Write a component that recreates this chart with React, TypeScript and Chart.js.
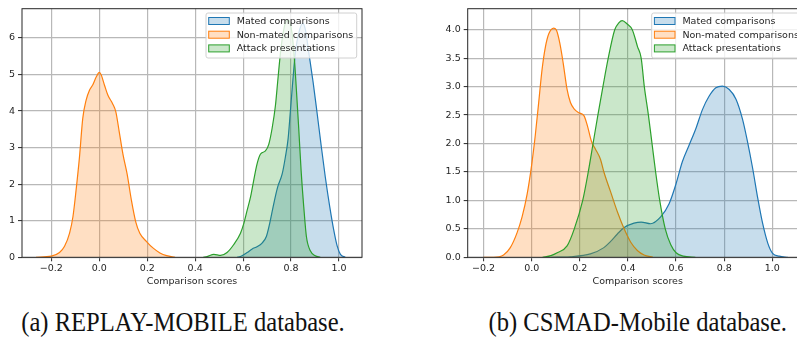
import React, { useEffect, useRef } from "react";
import { Chart, registerables } from "chart.js";

Chart.register(...registerables);

// ---------- shared ----------
const seriesLabels = ["Mated comparisons", "Non-mated comparisons", "Attack presentations"];
const lineColors = ["#1f77b4", "#ff7f0e", "#2ca02c"];
const fillColors = ["rgba(31,119,180,0.25)", "rgba(255,127,14,0.25)", "rgba(44,160,44,0.25)"];
const xTitle = "Comparison scores";

// ---------- (a) REPLAY-MOBILE ----------
const replayMatedX = [0.575, 0.589, 0.617, 0.638, 0.658, 0.679, 0.697, 0.711, 0.728, 0.744, 0.763, 0.776, 0.788, 0.797, 0.808, 0.818, 0.832, 0.849, 0.86, 0.874, 0.892, 0.908, 0.925, 0.943, 0.961, 0.978, 0.992, 1.006, 1.026];
const replayMatedY = [0, 0.02, 0.13, 0.23, 0.29, 0.39, 0.57, 0.93, 1.47, 1.92, 2.28, 2.73, 3.26, 3.98, 4.88, 5.6, 6.13, 6.4, 6.22, 5.6, 4.79, 3.98, 3.09, 2.19, 1.4, 0.75, 0.32, 0.08, 0];

const replayNonMatedX = [-0.264, -0.2, -0.166, -0.145, -0.124, -0.11, -0.097, -0.083, -0.069, -0.055, -0.041, -0.027, -0.013, 0.0, 0.008, 0.022, 0.036, 0.055, 0.069, 0.083, 0.099, 0.116, 0.134, 0.152, 0.169, 0.197, 0.225, 0.253, 0.281, 0.316];
const replayNonMatedY = [0, 0.03, 0.13, 0.3, 0.66, 1.11, 1.83, 2.72, 3.8, 4.3, 4.57, 4.72, 4.93, 5.06, 4.99, 4.7, 4.43, 4.21, 3.98, 3.44, 2.81, 2.28, 1.56, 0.97, 0.66, 0.43, 0.25, 0.12, 0.045, 0];

const replayAttackX = [0.433, 0.45, 0.478, 0.506, 0.533, 0.561, 0.589, 0.603, 0.617, 0.631, 0.644, 0.658, 0.672, 0.693, 0.707, 0.721, 0.735, 0.744, 0.756, 0.767, 0.779, 0.79, 0.804, 0.814, 0.822, 0.832, 0.842, 0.853, 0.864, 0.881, 0.901, 0.922];
const replayAttackY = [0, 0.02, 0.08, 0.05, 0.13, 0.35, 0.66, 0.93, 1.29, 1.65, 2.1, 2.55, 2.82, 2.91, 3.09, 3.53, 4.16, 4.79, 5.6, 6.13, 6.45, 6.48, 6.13, 5.42, 4.61, 3.53, 2.37, 1.38, 0.57, 0.17, 0.04, 0];

const replayXTicks = [-0.2, 0.0, 0.2, 0.4, 0.6, 0.8, 1.0];
const replayYTicks = [0, 1, 2, 3, 4, 5, 6];

// ---------- (b) CSMAD-Mobile ----------
const csmadMatedX = [0.08, 0.161, 0.244, 0.3, 0.328, 0.356, 0.383, 0.425, 0.455, 0.494, 0.536, 0.571, 0.599, 0.626, 0.654, 0.682, 0.71, 0.737, 0.765, 0.793, 0.821, 0.849, 0.876, 0.897, 0.918, 0.939, 0.96, 0.981, 1.001, 1.029, 1.064];
const csmadMatedY = [0, 0.01, 0.06, 0.17, 0.28, 0.41, 0.52, 0.6, 0.62, 0.59, 0.71, 0.94, 1.28, 1.68, 1.97, 2.26, 2.6, 2.83, 2.98, 3.01, 2.95, 2.78, 2.43, 2.03, 1.57, 1.05, 0.59, 0.25, 0.07, 0.02, 0];

const csmadNonMatedX = [-0.2, -0.158, -0.117, -0.089, -0.061, -0.04, -0.019, 0.0, 0.015, 0.029, 0.043, 0.057, 0.071, 0.092, 0.103, 0.117, 0.131, 0.147, 0.161, 0.178, 0.196, 0.217, 0.231, 0.249, 0.265, 0.286, 0.3, 0.328, 0.356, 0.384, 0.411, 0.439, 0.467, 0.504];
const csmadNonMatedY = [0, 0, 0.04, 0.17, 0.43, 0.71, 1.11, 1.63, 2.15, 2.72, 3.3, 3.7, 3.93, 4.03, 3.99, 3.76, 3.41, 2.95, 2.72, 2.6, 2.54, 2.49, 2.32, 2.03, 1.9, 1.72, 1.5, 1.15, 0.8, 0.5, 0.27, 0.12, 0.04, 0];

const csmadAttackX = [0.045, 0.08, 0.106, 0.147, 0.177, 0.212, 0.235, 0.255, 0.275, 0.296, 0.318, 0.345, 0.362, 0.376, 0.397, 0.418, 0.44, 0.455, 0.468, 0.485, 0.5, 0.515, 0.532, 0.555, 0.578, 0.6, 0.63, 0.68];
const csmadAttackY = [0, 0.03, 0.08, 0.2, 0.5, 1.0, 1.5, 2.0, 2.5, 3.0, 3.5, 4.0, 4.12, 4.16, 4.1, 4.0, 3.7, 3.5, 3.0, 2.5, 2.0, 1.5, 1.0, 0.5, 0.22, 0.08, 0.02, 0];

const csmadXTicks = [-0.2, 0.0, 0.2, 0.4, 0.6, 0.8, 1.0];
const csmadYTicks = [0, 0.5, 1.0, 1.5, 2.0, 2.5, 3.0, 3.5, 4.0];

// ---------- styling ----------
const FONT = "DejaVu Sans";
const TEXT = "#1f1f1f";
const GRID = "#b8b8b8";

const toPoints = (xs: number[], ys: number[]) => xs.map((x, i) => ({ x, y: ys[i] }));
const fmtX = (v: number) => {
  const s = v.toFixed(1);
  return s.startsWith("-") ? "\u2212" + s.slice(1) : s;
};

const frameAndLegend = {
  id: "frameAndLegend",
  afterDatasetsDraw(chart: any) {
    const { ctx, chartArea } = chart;
    ctx.save();
    ctx.strokeStyle = "#262626";
    ctx.lineWidth = 1;
    ctx.strokeRect(chartArea.left, chartArea.top, chartArea.right - chartArea.left, chartArea.bottom - chartArea.top);
    const w = 150.7;
    const h = 45;
    const left = chartArea.right - 5.3 - w;
    const top = chartArea.top + 4.3;
    ctx.beginPath();
    if (ctx.roundRect) ctx.roundRect(left, top, w, h, 2);
    else ctx.rect(left, top, w, h);
    ctx.fillStyle = "rgba(255,255,255,0.8)";
    ctx.fill();
    ctx.strokeStyle = "#d0d0d0";
    ctx.stroke();
    chart.data.datasets.forEach((ds: any, i: number) => {
      const cy = top + 8 + i * 13.7;
      ctx.fillStyle = "#ffffff";
      ctx.fillRect(left + 2.7, cy - 3.5, 20.6, 7);
      ctx.fillStyle = ds.backgroundColor;
      ctx.fillRect(left + 2.7, cy - 3.5, 20.6, 7);
      ctx.strokeStyle = ds.borderColor;
      ctx.lineWidth = 1;
      ctx.strokeRect(left + 2.7, cy - 3.5, 20.6, 7);
      ctx.fillStyle = TEXT;
      ctx.font = `9.5px '${FONT}'`;
      ctx.textBaseline = "middle";
      ctx.textAlign = "left";
      ctx.fillText(ds.label, left + 30.7, cy + 0.5);
    });
    ctx.restore();
  },
};

type PanelProps = {
  series: { x: number[]; y: number[] }[];
  xMin: number;
  xMax: number;
  yMax: number;
  xTicks: number[];
  yTicks: number[];
  yDecimals: number;
  yAxisWidth: number;
  width: number;
  height: number;
  padRight: number;
  padTop: number;
  xAxisHeight: number;
  left: number;
};

function Panel(p: PanelProps) {
  const ref = useRef<HTMLCanvasElement | null>(null);
  useEffect(() => {
    if (!ref.current) return;
    const datasets = p.series.map((s, i) => ({
      label: seriesLabels[i],
      data: toPoints(s.x, s.y),
      borderColor: lineColors[i],
      backgroundColor: fillColors[i],
      borderWidth: 1.2,
      pointRadius: 0,
      fill: "origin",
      cubicInterpolationMode: "monotone" as const,
      order: 3 - i,
    }));
    const tickFont = { family: FONT, size: 9.5 };
    const chart = new Chart(ref.current, {
      type: "line",
      data: { datasets },
      options: {
        animation: false,
        responsive: false,
        devicePixelRatio: 1,
        layout: { padding: { left: 0, top: p.padTop, right: p.padRight, bottom: 0 } },
        plugins: { legend: { display: false }, tooltip: { enabled: false } },
        scales: {
          x: {
            type: "linear",
            min: p.xMin,
            max: p.xMax,
            afterBuildTicks: (s: any) => {
              s.ticks = p.xTicks.map((v) => ({ value: v }));
            },
            afterFit: (s: any) => {
              s.height = p.xAxisHeight;
            },
            border: { display: false },
            grid: { color: GRID, lineWidth: 1.2, tickColor: "#262626", tickLength: 4, tickWidth: 1 },
            ticks: {
              padding: 2,
              color: TEXT,
              font: tickFont,
              maxRotation: 0,
              autoSkip: false,
              callback: (v: any) => fmtX(Number(v)),
            },
            title: {
              display: true,
              text: xTitle,
              color: TEXT,
              font: tickFont,
              padding: { top: 0, bottom: 2.6 },
            },
          },
          y: {
            type: "linear",
            min: 0,
            max: p.yMax,
            afterBuildTicks: (s: any) => {
              s.ticks = p.yTicks.map((v) => ({ value: v }));
            },
            afterFit: (s: any) => {
              s.width = p.yAxisWidth;
            },
            border: { display: false },
            grid: { color: GRID, lineWidth: 1.2, tickColor: "#262626", tickLength: 4, tickWidth: 1 },
            ticks: {
              padding: 3,
              color: TEXT,
              font: tickFont,
              autoSkip: false,
              callback: (v: any) => Number(v).toFixed(p.yDecimals),
            },
          },
        },
      },
      plugins: [frameAndLegend],
    } as any);
    return () => chart.destroy();
  }, []);
  return (
    <canvas
      ref={ref}
      width={p.width}
      height={p.height}
      style={{ position: "absolute", left: p.left, top: 0, width: p.width, height: p.height }}
    />
  );
}

const captionA = "(a) REPLAY-MOBILE database.";
const captionB = "(b) CSMAD-Mobile database.";

export default function App() {
  const capStyle: React.CSSProperties = {
    position: "absolute",
    top: 311.1,
    fontFamily: "'Liberation Serif', serif",
    fontSize: 24.6,
    lineHeight: "24.6px",
    color: "#111",
    whiteSpace: "nowrap",
  };
  return (
    <div
      style={{
        position: "fixed",
        left: 0,
        top: 0,
        width: 797,
        height: 342,
        overflow: "hidden",
        background: "#fff",
      }}
    >
      <Panel
        series={[
          { x: replayMatedX, y: replayMatedY },
          { x: replayNonMatedX, y: replayNonMatedY },
          { x: replayAttackX, y: replayAttackY },
        ]}
        xMin={-0.3225}
        xMax={1.096}
        yMax={6.8}
        xTicks={replayXTicks}
        yTicks={replayYTicks}
        yDecimals={0}
        yAxisWidth={22}
        width={400}
        height={290}
        padRight={38}
        padTop={5}
        xAxisHeight={32.7}
        left={0}
      />
      <Panel
        series={[
          { x: csmadMatedX, y: csmadMatedY },
          { x: csmadNonMatedX, y: csmadNonMatedY },
          { x: csmadAttackX, y: csmadAttackY },
        ]}
        xMin={-0.266}
        xMax={1.147}
        yMax={4.37}
        xTicks={csmadXTicks}
        yTicks={csmadYTicks}
        yDecimals={1}
        yAxisWidth={27.7}
        width={380}
        height={290}
        padRight={12.3}
        padTop={5}
        xAxisHeight={32.7}
        left={440}
      />
      <div
        style={{
          ...capStyle,
          left: 183,
          transform: "translateX(-50%) scaleY(1.12)",
          transformOrigin: "50% 20.6px",
        }}
      >
        {captionA}
      </div>
      <div style={{ ...capStyle, right: 10, transform: "scaleY(1.12)", transformOrigin: "50% 20.6px" }}>
        {captionB}
      </div>
    </div>
  );
}
